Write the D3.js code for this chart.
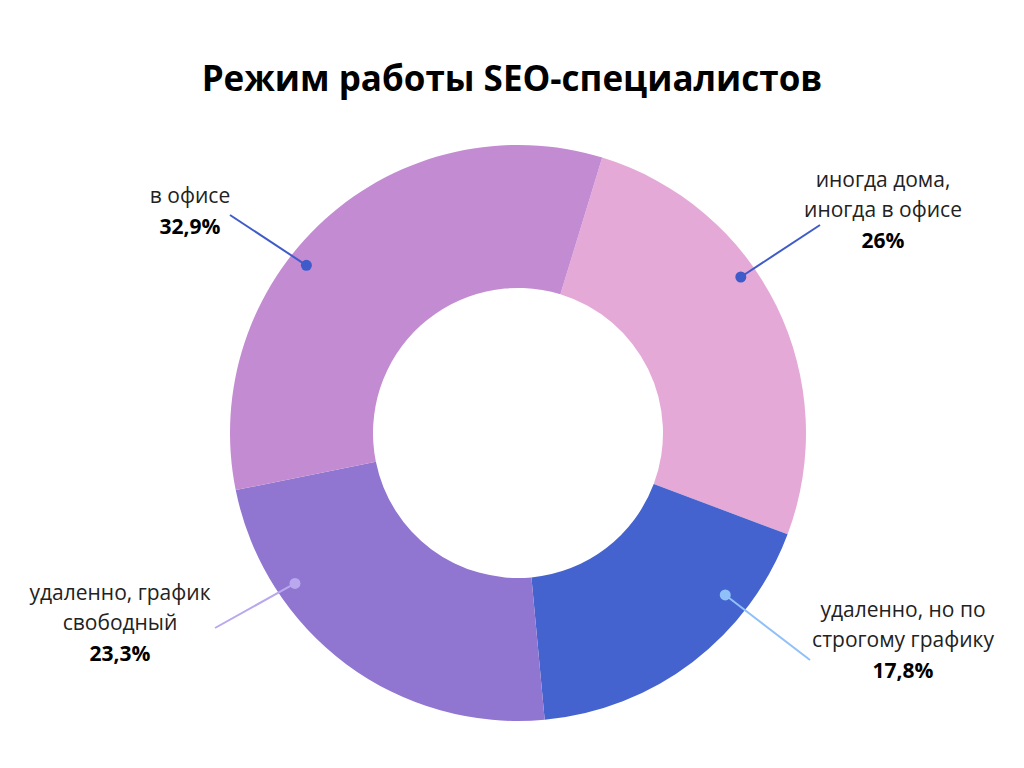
<!DOCTYPE html>
<html>
<head>
<meta charset="utf-8">
<script src="https://d3js.org/d3.v7.min.js"></script>
<style>
  body { margin: 0; background: #fff; }
  text { font-family: "Open Sans", sans-serif; }
</style>
</head>
<body>
<svg id="chart" width="1024" height="768"></svg>
<script>
const categories = ["иногда дома, иногда в офисе", "удаленно, но по строгому графику", "удаленно, график свободный", "в офисе"];
const values = [26, 17.8, 23.3, 32.9];
const valueLabels = ["26%", "17,8%", "23,3%", "32,9%"];
const colors = ["#e5a9d8", "#4463cf", "#9075d1", "#c38bd2"];

// label layout (lines, anchor point, dot angle/radius, line end, colours)
const layout = [
  { lines: ["иногда дома,", "иногда в офисе"], x: 883, y: 187, dotA: 55, dotR: 272, end: [820, 225], c: "#3f5bc9" },
  { lines: ["удаленно, но по", "строгому графику"], x: 903, y: 617, dotA: 128, dotR: 263, end: [810, 660], c: "#90c0f8" },
  { lines: ["удаленно, график", "свободный"], x: 120, y: 600, dotA: 236, dotR: 269, end: [215, 628], c: "#b9a8ee" },
  { lines: ["в офисе"], x: 190, y: 203, dotA: -51.6, dotR: 270, end: [230, 215], c: "#3f5bc9" }
];

const svg = d3.select("#chart");
const cx = 518, cy = 433;

svg.append("text").attr("x", 512).attr("y", 91).attr("text-anchor", "middle")
  .style("font-size", "35px").style("font-weight", "700").attr("fill", "#000")
  .text("Режим работы SEO-специалистов");

const start = 17 * Math.PI / 180;
const pie = d3.pie().sort(null).startAngle(start).endAngle(start + 2 * Math.PI);
const arc = d3.arc().innerRadius(145).outerRadius(288);

const g = svg.append("g").attr("transform", `translate(${cx},${cy})`);
g.selectAll("path").data(pie(values)).enter().append("path")
  .attr("d", arc).attr("fill", (d, i) => colors[i]);

layout.forEach((l, i) => {
  const a = l.dotA * Math.PI / 180;
  const px = cx + l.dotR * Math.sin(a), py = cy - l.dotR * Math.cos(a);
  svg.append("line").attr("x1", px).attr("y1", py).attr("x2", l.end[0]).attr("y2", l.end[1])
    .attr("stroke", l.c).attr("stroke-width", 2);
  svg.append("circle").attr("cx", px).attr("cy", py).attr("r", 5.5).attr("fill", l.c);
  const t = svg.append("text").attr("x", l.x).attr("y", l.y).attr("text-anchor", "middle")
    .style("font-size", "21px").attr("fill", "#222");
  l.lines.forEach((s, k) => t.append("tspan").attr("x", l.x).attr("dy", k ? 30 : 0).text(s));
  t.append("tspan").attr("x", l.x).attr("dy", 31).style("font-weight", "700").attr("fill", "#000")
    .text(valueLabels[i]);
});
</script>
</body>
</html>
